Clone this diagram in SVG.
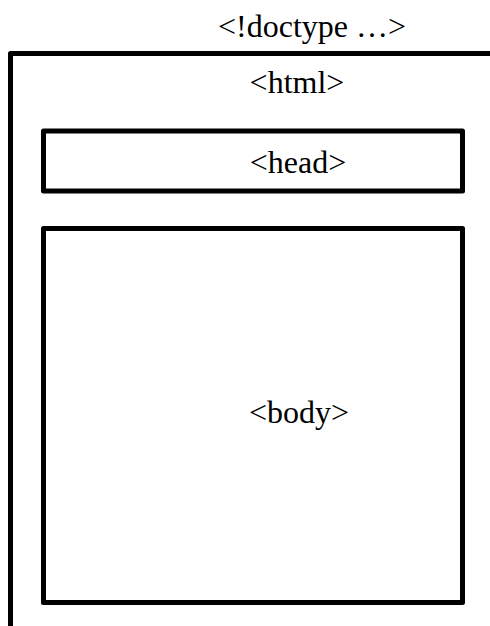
<svg xmlns="http://www.w3.org/2000/svg" width="490" height="626" viewBox="0 0 490 626">
  <style>
    .box { fill: none; stroke: #000; stroke-width: 5; stroke-linejoin: round; }
    .lbl { font-family: "Liberation Serif", "Times New Roman", serif; font-size: 32px; fill: #000; text-anchor: middle; }
  </style>
  <rect width="490" height="626" fill="#fff"/>
  <g id="doctype">
    <text class="lbl" x="312" y="37">&lt;!doctype …&gt;</text>
  </g>
  <g id="html">
    <path class="box" d="M10.5 630 V53.5 H495"/>
    <text class="lbl" x="297" y="93">&lt;html&gt;</text>
  </g>
  <g id="head">
    <rect class="box" x="43.5" y="131" width="419" height="60"/>
    <text class="lbl" x="298" y="173">&lt;head&gt;</text>
  </g>
  <g id="body">
    <rect class="box" x="43.5" y="228.5" width="419" height="374"/>
    <text class="lbl" x="299" y="423">&lt;body&gt;</text>
  </g>
  <g id="connectors"/>
</svg>
